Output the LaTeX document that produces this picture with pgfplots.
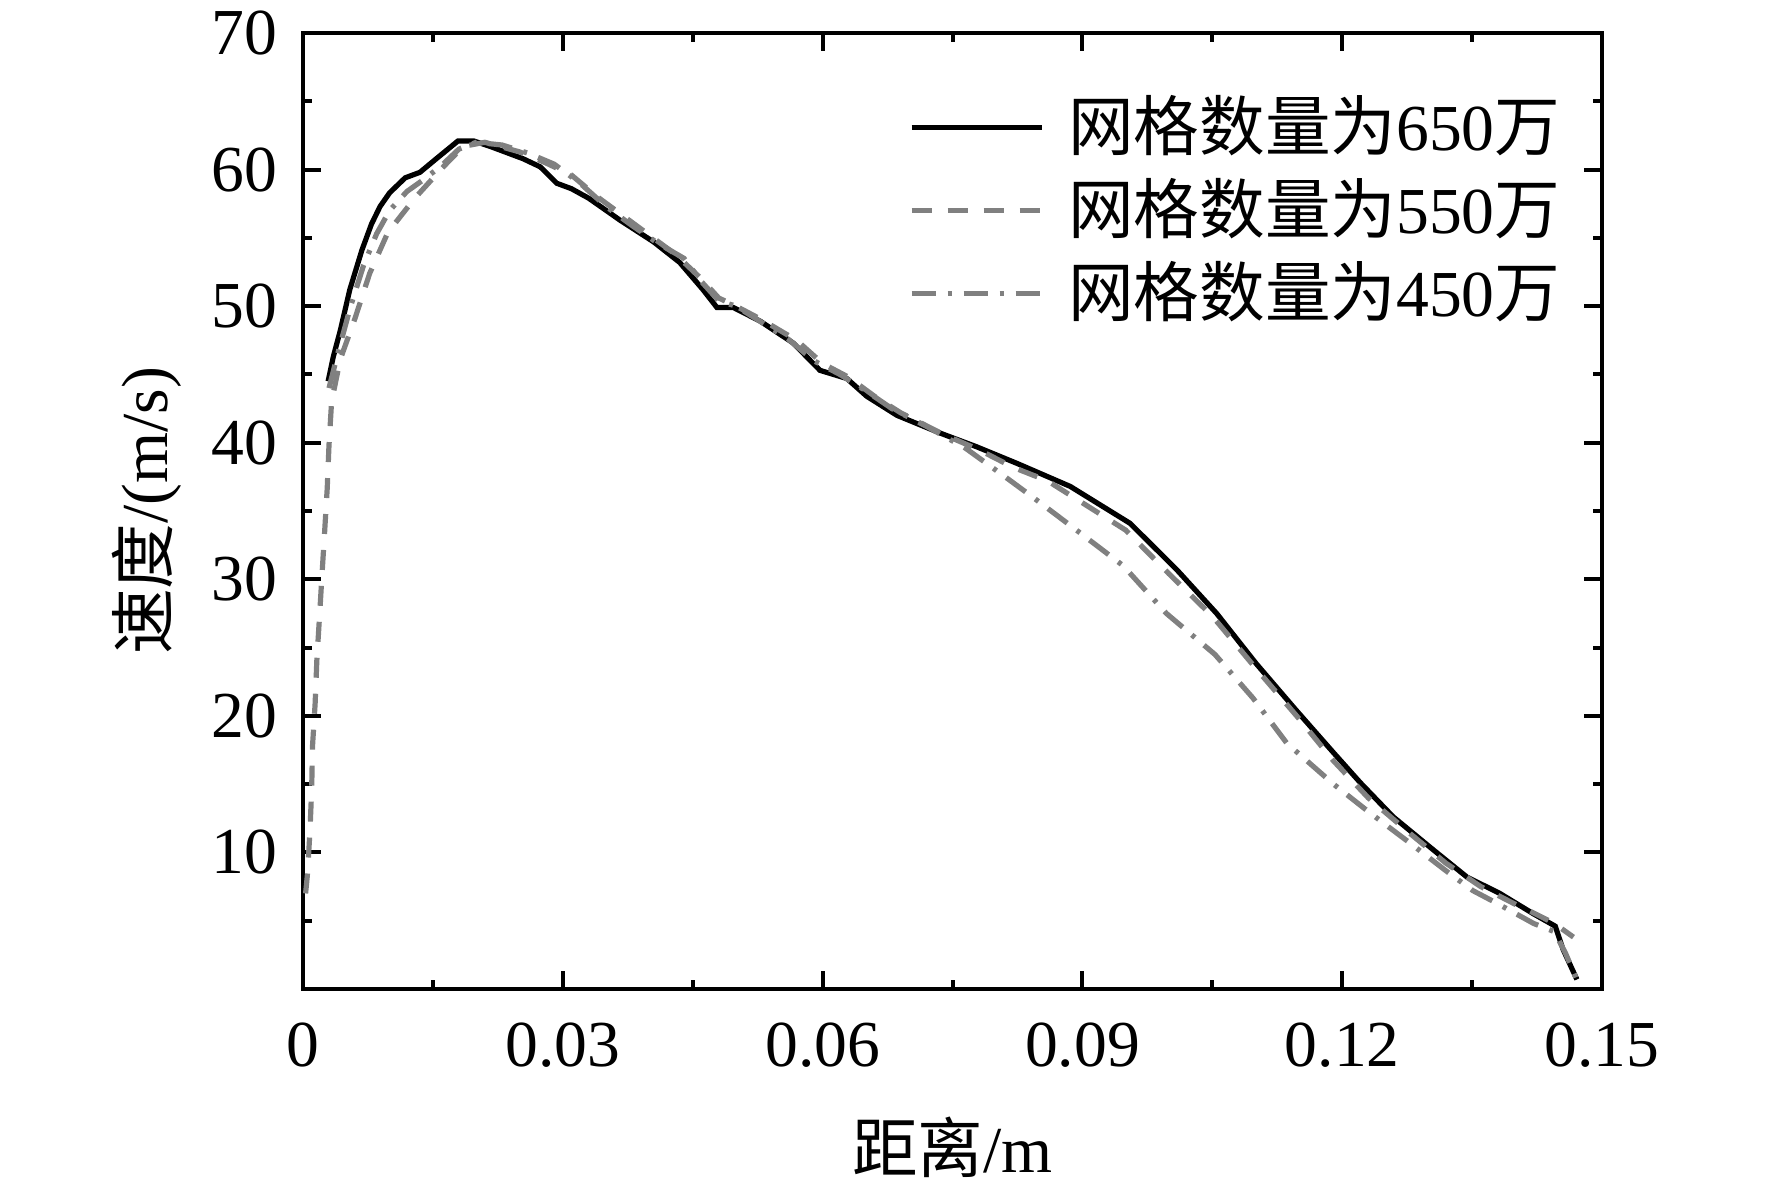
\documentclass[border=0pt]{standalone}
\usepackage{pgfplots}
\pgfplotsset{compat=1.18}
\usepackage{pgfplotstable}
\usepackage{fontspec}
\setmainfont{Liberation Serif}
\newfontfamily\cjk{Noto Sans CJK SC}
\definecolor{lgray}{RGB}{128,128,128}

\pgfplotstableread{
x y
0.0029 44.5
0.0035 46.3
0.0043 48.2
0.0054 51.2
0.0068 54.1
0.0079 56.0
0.0089 57.3
0.0100 58.3
0.0118 59.4
0.0135 59.8
0.0154 60.8
0.0179 62.1
0.0197 62.1
0.0216 61.7
0.0254 60.8
0.0274 60.2
0.0293 59.0
0.0310 58.6
0.0330 57.9
0.0366 56.3
0.0405 54.7
0.0435 53.2
0.0462 51.2
0.0478 49.9
0.0497 49.9
0.0528 48.9
0.0566 47.3
0.0597 45.3
0.0628 44.7
0.0651 43.4
0.0686 42.0
0.0736 40.7
0.0778 39.7
0.0824 38.5
0.0886 36.8
0.0955 34.1
0.1009 30.7
0.1055 27.5
0.1101 23.8
0.1147 20.4
0.1190 17.3
0.1221 15.1
0.1259 12.6
0.1305 10.2
0.1344 8.2
0.1382 7.0
0.1421 5.5
0.1446 4.6
0.1455 2.9
0.1471 0.7
}\seriesA

\pgfplotstableread{
x y
0.0003 7.0
0.0005 8.3
0.0008 11.5
0.0010 14.6
0.0011 17.8
0.0014 20.9
0.0016 24.1
0.0019 27.2
0.0022 30.4
0.0025 33.5
0.0028 36.7
0.0030 39.8
0.0033 43.0
0.0043 46.1
0.0060 49.1
0.0077 52.4
0.0098 55.4
0.0129 57.9
0.0162 60.2
0.0185 61.7
0.0210 62.0
0.0250 61.3
0.0280 60.5
0.0310 59.6
0.0340 58.0
0.0370 56.6
0.0400 55.2
0.0430 53.8
0.0460 52.0
0.0480 50.6
0.0500 50.0
0.0530 49.0
0.0570 47.5
0.0600 45.8
0.0630 44.8
0.0660 43.4
0.0690 42.2
0.0740 40.6
0.0780 39.5
0.0820 38.2
0.0860 37.2
0.0890 36.0
0.0950 33.6
0.1000 30.4
0.1050 27.3
0.1100 23.5
0.1150 19.8
0.1190 16.7
0.1230 14.0
0.1280 11.3
0.1320 9.2
0.1360 7.5
0.1400 6.2
0.1420 5.6
0.1445 4.8
0.1467 3.8
}\seriesB

\pgfplotstableread{
x y
0.0030 44.0
0.0040 46.5
0.0055 50.0
0.0070 53.0
0.0085 55.3
0.0100 57.0
0.0120 58.4
0.0140 59.3
0.0160 60.3
0.0180 61.5
0.0200 62.0
0.0230 61.8
0.0260 61.2
0.0290 60.4
0.0320 59.0
0.0350 57.3
0.0380 55.9
0.0410 54.6
0.0440 53.5
0.0460 51.8
0.0480 50.4
0.0500 50.0
0.0530 48.8
0.0560 47.6
0.0590 46.0
0.0620 45.0
0.0650 43.8
0.0680 42.5
0.0720 41.2
0.0765 39.6
0.0813 37.4
0.0843 36.0
0.0889 33.8
0.0947 31.0
0.0997 27.5
0.1053 24.5
0.1097 21.3
0.1136 18.0
0.1190 15.0
0.1232 12.9
0.1278 10.7
0.1321 8.6
0.1351 7.2
0.1378 6.3
0.1421 4.8
0.1445 4.2
0.1458 2.6
0.1470 0.8
}\seriesC

\begin{document}
\begin{tikzpicture}
\begin{axis}[
  scale only axis,
  width=324.75pt, height=239pt,
  xmin=0, xmax=0.15, ymin=0, ymax=70,
  xtick={0,0.03,0.06,0.09,0.12,0.15},
  xticklabels={0,0.03,0.06,0.09,0.12,0.15},
  minor xtick={0.015,0.045,0.075,0.105,0.135},
  ytick={10,20,30,40,50,60,70},
  yticklabels={10,20,30,40,50,60,70},
  minor ytick={5,15,25,35,45,55,65},
  scaled x ticks=false,
  tick align=inside,
  major tick length=4.5pt,
  minor tick length=2.25pt,
  every tick/.style={black, line width=1pt},
  axis line style={black, line width=1.1pt},
  /pgf/number format/assume math mode=true,
  tick label style={font=\fontsize{16.4}{19}\selectfont},
  x tick label style={anchor=north, inner sep=0pt, yshift=-8.25pt},
  y tick label style={anchor=east, inner sep=0pt, xshift=-6.25pt},
  xlabel={{\cjk 距离}/m},
  ylabel={{\cjk 速度}/(m/s)},
  label style={font=\fontsize{16.4}{19}\selectfont},
  xlabel style={at={(axis description cs:0.5,-0.1653)}, anchor=center, inner sep=0pt},
  ylabel style={at={(axis description cs:-0.1201,0.5)}, anchor=center, inner sep=0pt},
  legend style={draw=none, fill=none, inner sep=0pt,
    at={(axis description cs:1,1)}, anchor=north east,
    xshift=-10.25pt, yshift=-16.25pt,
    font=\fontsize{16.4}{19}\selectfont,
    nodes={inner sep=0pt, text height=13pt, text depth=5pt},
    row sep=2.75pt},
  legend cell align=left,
  legend image code/.code={\draw[#1] (0pt,1.8pt) -- (32.5pt,1.8pt); \path (38.5pt,1.8pt);},
]
\addplot[black, line width=1.3pt] table[x=x,y=y] {\seriesA};
\addlegendentry{{\cjk 网格数量为}650{\cjk 万}}
\addplot[lgray, line width=1.3pt, dash pattern=on 5pt off 4pt] table[x=x,y=y] {\seriesB};
\addlegendentry{{\cjk 网格数量为}550{\cjk 万}}
\addplot[lgray, line width=1.3pt, dash pattern=on 6pt off 3pt on 1pt off 3pt] table[x=x,y=y] {\seriesC};
\addlegendentry{{\cjk 网格数量为}450{\cjk 万}}
\end{axis}
\pgfresetboundingbox
\path (-75.75pt,-50pt) rectangle (367.25pt,247.25pt);
\end{tikzpicture}
\end{document}
